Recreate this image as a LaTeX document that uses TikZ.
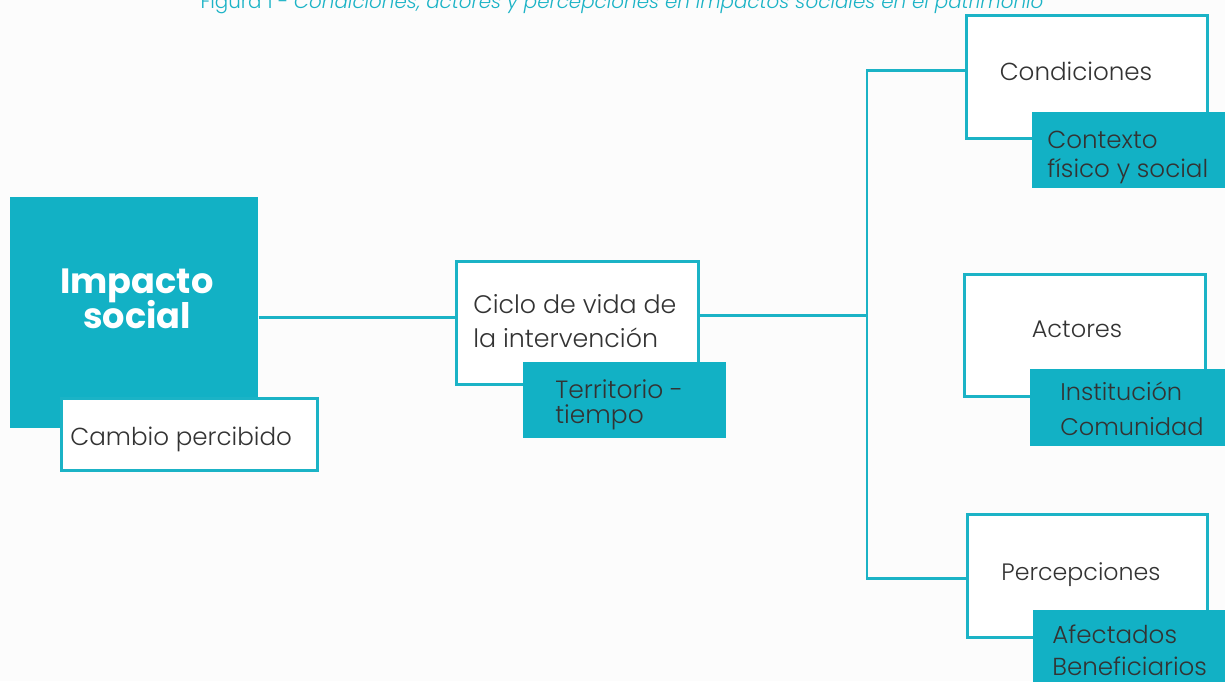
\documentclass[tikz,border=0pt]{standalone}
\usepackage{fontspec}
\setmainfont{Poppins}
\newfontfamily\lightfont{Poppins Light}

\definecolor{tealfill}{HTML}{12B1C5}
\definecolor{tealline}{HTML}{1BB3C6}
\definecolor{ink}{HTML}{333333}
\definecolor{bg}{HTML}{FCFCFC}
\newcommand\fsz[2]{\fontsize{#1}{#2}\selectfont\lineskiplimit=-20pt}

\tikzset{
  sz/.style 2 args={minimum width=#1*0.02cm, minimum height=#2*0.02cm},
  box/.style={draw=tealline, line width=1.7pt, fill=white, anchor=north west, inner sep=0pt},
  tbox/.style={fill=tealfill, anchor=north west, inner sep=0pt},
  link/.style={draw=tealline, line width=1.7pt},
  txt/.style={text=ink, font=\lightfont\fsz{14}{19}, inner sep=0pt, anchor=base west, align=left},
}

\begin{document}
\begin{tikzpicture}[x=0.02cm, y=-0.02cm]
  \clip (0,0) rectangle (1225,681);
  \fill[bg] (0,0) rectangle (1225,681);

  \node[text=tealline, font=\lightfont\fsz{11.3}{13}, inner sep=0pt, anchor=base] (fig) at (622,8)
    {Figura 1 - \textit{Condiciones, actores y percepciones en impactos sociales en el patrimonio}};

  % boxes
  \node[tbox, sz={248}{231}] (imp) at (10,197) {};
  \node[box, sz={256}{72}] (cambio) at (60,397) {};
  \node[box, sz={242}{123}] (ciclo) at (455,260) {};
  \node[tbox, sz={203}{76}] (terr) at (523,362) {};

  \node[box, sz={241}{123}] (cond) at (965,14) {};
  \node[tbox, sz={210}{76}] (ctx) at (1032,112) {};
  \node[box, sz={241}{122}] (act) at (963,273) {};
  \node[tbox, sz={212}{77}] (inst) at (1030,369) {};
  \node[box, sz={240}{123}] (perc) at (966,513) {};
  \node[tbox, sz={210}{90}] (afec) at (1033,610) {};

  % connectors
  \coordinate (lvl) at (0,317);
  \coordinate (jn) at (867,315);
  \coordinate (jtop) at (867,70);
  \coordinate (jbot) at (867,578);
  \draw[link] (imp.east |- lvl) -- (ciclo.west |- lvl);
  \draw[link] (ciclo.east |- jn) -- (jn);
  \draw[link] (cond.west |- jtop) -- (jtop) -- (jbot) -- (perc.west |- jbot);

  % texts (base = last line)
  \node[txt, text=white, font=\bfseries\fsz{20}{19.8}, align=center, anchor=base] (impt) at (137,328) {Impacto\\social};
  \node[txt] (cambiot) at (70,445) {Cambio percibido};
  \node[txt, font=\lightfont\fsz{14.4}{19.3}] (ciclot) at (473,347) {Ciclo de vida de\\la intervención};
  \node[txt, font=\lightfont\fsz{14.2}{14.2}] (terrt) at (555,423) {Territorio -\\tiempo};
  \node[txt, anchor=base] (condt) at (1076,80) {Condiciones};
  \node[txt, font=\lightfont\fsz{14}{16.4}] (ctxt) at (1047,177) {Contexto\\físico y social};
  \node[txt, font=\lightfont\fsz{13.7}{19}, anchor=base] (actt) at (1077,337) {Actores};
  \node[txt, font=\lightfont\fsz{13.7}{19.8}] (instt) at (1060,435) {Institución\\Comunidad};
  \node[txt, font=\lightfont\fsz{13.5}{19}, anchor=base] (perct) at (1081,580) {Percepciones};
  \node[txt, font=\lightfont\fsz{14}{18}] (afect) at (1052,675) {Afectados\\Beneficiarios};
\end{tikzpicture}
\end{document}
